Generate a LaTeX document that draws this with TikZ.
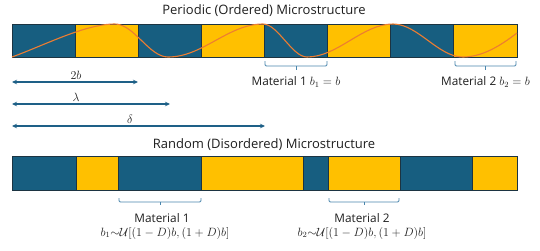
\documentclass[tikz,border=0pt]{standalone}
\usepackage{fontspec}
\setmainfont{Open Sans}
\usepackage{amsmath,amssymb}
\usetikzlibrary{arrows.meta}
\definecolor{blk}{RGB}{23,94,128}
\definecolor{ylw}{RGB}{255,192,0}
\definecolor{org}{RGB}{237,125,49}
\definecolor{arr}{RGB}{30,96,135}
\definecolor{brk}{RGB}{74,134,172}
\definecolor{edge}{RGB}{28,52,66}
\definecolor{txt}{RGB}{30,30,30}
\tikzset{
  bluecell/.style={fill=blk,draw=edge,line width=0.8pt},
  yellowcell/.style={fill=ylw,draw=edge,line width=0.8pt},
  dimarrow/.style={draw=arr,line width=1.4pt,{Stealth[length=5pt,width=4.5pt]}-{Stealth[length=5pt,width=4.5pt]}},
  brace/.style={draw=brk,line width=0.9pt,rounded corners=1.2pt},
  label/.style={font=\fontsize{11.8}{14}\selectfont,text=txt,inner sep=0pt},
  ttl/.style={font=\fontsize{13}{15}\selectfont,text=txt,inner sep=0pt},
  wave/.style={draw=org,line width=1.1pt}
}
\begin{document}
\begin{tikzpicture}[x=1pt,y=-1pt]
\useasboundingbox (0,0) rectangle (540,250);
% titles
\node[ttl] (t1) at (264,11) {Periodic (Ordered) Microstructure};
\node[ttl] (t2) at (264,145) {Random (Disordered) Microstructure};
% periodic bar
\foreach \i in {0,...,7}{
  \pgfmathsetmacro{\xa}{12+63.125*\i}
  \pgfmathsetmacro{\xb}{12+63.125*(\i+1)}
  \pgfmathparse{mod(\i,2)==0?1:0}
  \ifnum\pgfmathresult=1
    \path[bluecell] (\xa,24) rectangle (\xb,57);
  \else
    \path[yellowcell] (\xa,24) rectangle (\xb,57);
  \fi
}
% wave
\draw[wave] (12,57) .. controls (45,45) and (85,24) .. (115,24)
  .. controls (134,24) and (149,57) .. (168,57)
  .. controls (203,57) and (228,24) .. (263,24)
  .. controls (278,24) and (292,57) .. (307,57)
  .. controls (338,57) and (362,24) .. (393,24)
  .. controls (418,24) and (438,57) .. (463,57)
  .. controls (485,57) and (505,42) .. (517,33);
% random bar
\path[bluecell] (12,156) rectangle (76,190);
\path[yellowcell] (76,156) rectangle (118,190);
\path[bluecell] (118,156) rectangle (201,190);
\path[yellowcell] (201,156) rectangle (303,190);
\path[bluecell] (303,156) rectangle (328,190);
\path[yellowcell] (328,156) rectangle (400,190);
\path[bluecell] (400,156) rectangle (472,190);
\path[yellowcell] (472,156) rectangle (517,190);
% braces top
\draw[brace] (265,61) -- (265,66) -- (327,66) -- (327,61);
\draw[brace] (296,66) -- (296,70);
\draw[brace] (455,61) -- (455,66) -- (516,66) -- (516,61);
\draw[brace] (485.5,66) -- (485.5,70);
\node[label] (m1) at (296,82) {Material 1 $b_1=b$};
\node[label] (m2) at (485.5,82) {Material 2 $b_2=b$};
% braces bottom
\draw[brace] (119,198) -- (119,202) -- (201,202) -- (201,198);
\draw[brace] (160,202) -- (160,205);
\draw[brace] (329,198) -- (329,202) -- (399,202) -- (399,198);
\draw[brace] (364,202) -- (364,205);
\node[label] (r1) at (162,218) {Material 1};
\node[label] (f1) at (165,233) {$b_1{\sim}\mathcal{U}[(1-D)b,(1+D)b]$};
\node[label] (r2) at (362,218) {Material 2};
\node[label] (f2) at (362,233) {$b_2{\sim}\mathcal{U}[(1-D)b,(1+D)b]$};
% dimension arrows
\coordinate (a0) at (12,82); \coordinate (a1) at (138,82);
\coordinate (b0) at (12,104); \coordinate (b1) at (170,104);
\coordinate (c0) at (12,126); \coordinate (c1) at (265,126);
\draw[dimarrow] (a0) -- (a1);
\draw[dimarrow] (b0) -- (b1);
\draw[dimarrow] (c0) -- (c1);
\node[label] (l2b) at (76,75) {$2b$};
\node[label] (llam) at (76,97) {$\lambda$};
\node[label] (ldel) at (130,119) {$\delta$};
\end{tikzpicture}
\end{document}
